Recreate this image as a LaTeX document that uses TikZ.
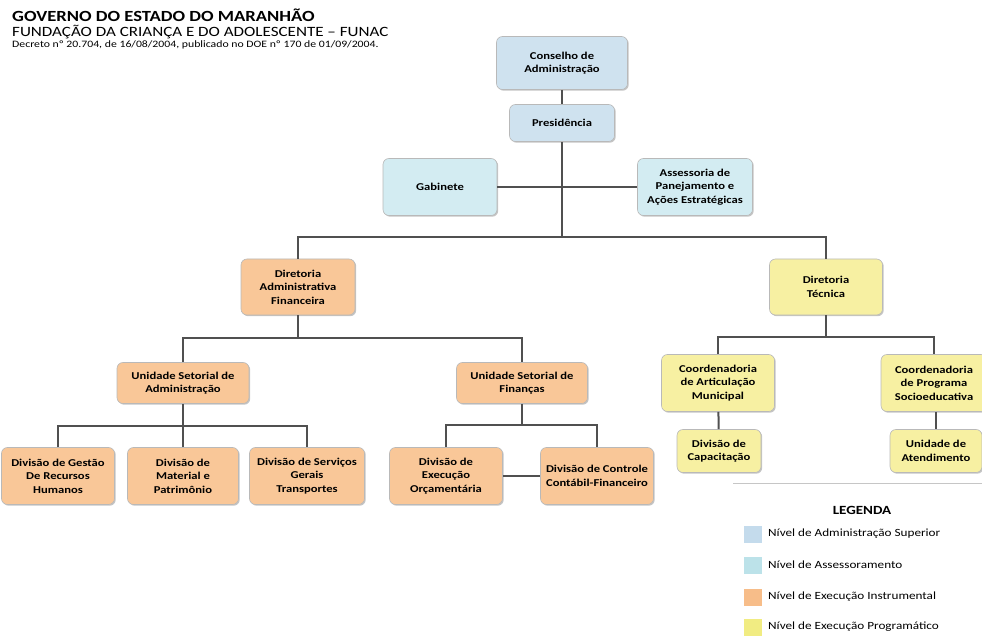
\documentclass[tikz,border=0pt]{standalone}
\usepackage{fontspec}
\setmainfont{Carlito}[FakeStretch=1.2]
\usepackage{xcolor}
\usepackage{tikz}
\usetikzlibrary{
  positioning,
  calc,
  shadows
}

\definecolor{supblue}{HTML}{CFE2EF}
\definecolor{asscyan}{HTML}{D3ECF2}
\definecolor{instorange}{HTML}{F9C798}
\definecolor{progyellow}{HTML}{F7F0A2}
\definecolor{linegray}{HTML}{505050}
\definecolor{keysup}{HTML}{C4DBEC}
\definecolor{keyass}{HTML}{BCE2E9}
\definecolor{keyins}{HTML}{F7BD89}
\definecolor{keyprog}{HTML}{F1EC82}

\tikzset{
  unit/.style={draw=gray!55, line width=0.6pt, rounded corners=6pt,
    align=center, inner sep=2pt,
    font=\fontsize{10.5}{13.5}\selectfont\bfseries,
    drop shadow={shadow xshift=1.2pt, shadow yshift=-1.2pt, opacity=0.45, fill=gray}},
  superior/.style={unit, fill=supblue},
  advisory/.style={unit, fill=asscyan},
  instrumental/.style={unit, fill=instorange},
  programmatic/.style={unit, fill=progyellow},
  link/.style={draw=linegray, line width=2pt},
  swatch/.style={minimum width=18pt, minimum height=17pt, inner sep=0pt},
  legtext/.style={anchor=west, inner sep=0pt, font=\fontsize{11}{13}\selectfont}
}

\begin{document}
\begin{tikzpicture}[x=1pt, y=-1pt]
  \fill[white] (0,0) rectangle (982,644);
  \useasboundingbox (0,0) rectangle (982,644);

  \node[anchor=west, inner sep=0pt, font=\fontsize{15.5}{17}\selectfont\bfseries] (gov) at (12,15) {GOVERNO DO ESTADO DO MARANHÃO};
  \node[anchor=west, inner sep=0pt, font=\fontsize{14.2}{16}\selectfont] (funac) at (12,32) {FUNDAÇÃO DA CRIANÇA E DO ADOLESCENTE – FUNAC};
  \node[anchor=west, inner sep=0pt, font=\fontsize{9.8}{11}\selectfont] (decree) at (12,45) {Decreto nº 20.704, de 16/08/2004, publicado no DOE nº 170 de 01/09/2004.};

  \node[superior, minimum width=131pt, minimum height=53pt] (cons) at (562,63) {Conselho de\\Administração};
  \node[superior, minimum width=105pt, minimum height=37pt] (pres) at (562,123) {Presidência};
  \node[advisory, minimum width=114pt, minimum height=57pt] (gab) at (440,187) {Gabinete};
  \node[advisory, minimum width=115pt, minimum height=57pt] (asse) at (695,187) {Assessoria de\\Panejamento e\\Ações Estratégicas};

  \node[instrumental, minimum width=114pt, minimum height=56pt] (dadm) at (298,287) {Diretoria\\Administrativa\\Financeira};
  \node[programmatic, minimum width=113pt, minimum height=56pt] (dtec) at (826,287) {Diretoria\\Técnica};

  \node[instrumental, minimum width=132pt, minimum height=41pt] (usadm) at (183,383) {Unidade Setorial de\\Administração};
  \node[instrumental, minimum width=131pt, minimum height=41pt] (usfin) at (522,383) {Unidade Setorial de\\Finanças};

  \node[instrumental, minimum width=113pt, minimum height=57pt] (divrh) at (58,476) {Divisão de Gestão\\De Recursos\\Humanos};
  \node[instrumental, minimum width=111pt, minimum height=57pt] (divmat) at (183,476) {Divisão de\\Material e\\Patrimônio};
  \node[instrumental, minimum width=115pt, minimum height=57pt] (divserv) at (307,476) {Divisão de Serviços\\Gerais\\Transportes};
  \node[instrumental, minimum width=113pt, minimum height=57pt] (divexec) at (446,476) {Divisão de\\Execução\\Orçamentária};
  \node[instrumental, minimum width=113pt, minimum height=57pt] (divcont) at (597,476) {Divisão de Controle\\Contábil-Financeiro};

  \node[programmatic, minimum width=113pt, minimum height=57pt] (coart) at (718,383) {Coordenadoria\\de Articulação\\Municipal};
  \node[programmatic, minimum width=106pt, minimum height=57pt] (coprog) at (934,383) {Coordenadoria\\de Programa\\Socioeducativa};
  \node[programmatic, minimum width=84pt, minimum height=43pt] (divcap) at (719,451) {Divisão de\\Capacitação};
  \node[programmatic, minimum width=92pt, minimum height=43pt] (unat) at (936,451) {Unidade de\\Atendimento};

  \coordinate (bar) at (562,237);
  \coordinate (jadm) at (298,338);
  \coordinate (jusadm) at (183,426);
  \coordinate (jusfin) at (522,425);
  \coordinate (jtec) at (826,337);

  \draw[link] (cons) -- (pres);
  \draw[link] (gab) -- (asse);
  \draw[link] (pres) -- (bar);
  \draw[link] (dadm) |- (bar) -| (dtec);
  \draw[link] (dadm) -- (jadm);
  \draw[link] (usadm) |- (jadm) -| (usfin);
  \draw[link] (usadm) -- (divmat);
  \draw[link] (divrh) |- (jusadm) -| (divserv);
  \draw[link] (usfin) -- (jusfin);
  \draw[link] (divexec) |- (jusfin) -| (divcont);
  \draw[link] (divexec) -- (divcont);
  \draw[link] (dtec) -- (jtec);
  \draw[link] (coart) |- (jtec) -| (coprog);
  \draw[link] (coart) -- (divcap);
  \draw[link] (coprog.south -| unat) -- (unat);

  \draw[gray!45, line width=1pt] (733,483) -- (982,483);
  \node[font=\fontsize{12.5}{14}\selectfont\bfseries] (legtitle) at (862,510) {LEGENDA};
  \node[swatch, fill=keysup] (swsup) at (753,534) {};
  \node[swatch, fill=keyass] (swass) at (753,565) {};
  \node[swatch, fill=keyins] (swins) at (753,597) {};
  \node[swatch, fill=keyprog] (swprog) at (753,627) {};
  \node[legtext] (ltsup) at (768,534) {Nível de Administração Superior};
  \node[legtext] (ltass) at (768,565) {Nível de Assessoramento};
  \node[legtext] (ltins) at (768,597) {Nível de Execução Instrumental};
  \node[legtext] (ltprog) at (768,627) {Nível de Execução Programático};
\end{tikzpicture}
\end{document}
